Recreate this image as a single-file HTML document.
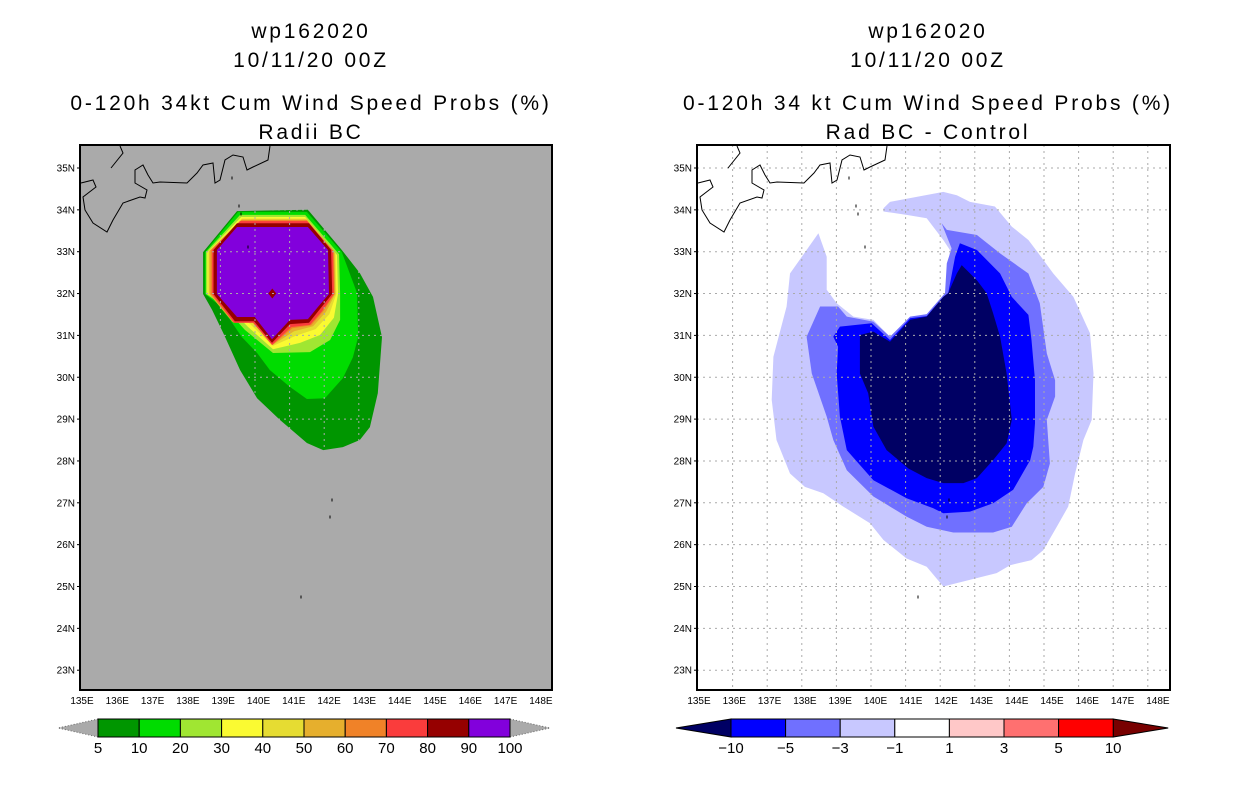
<!DOCTYPE html>
<html><head><meta charset="utf-8"><style>
body{margin:0;background:#fff;}
svg{display:block;font-family:"Liberation Sans",sans-serif;}
</style></head><body>
<svg id="fig" width="1236" height="800" viewBox="0 0 1236 800" xmlns="http://www.w3.org/2000/svg">
<defs>
<clipPath id="clipL"><rect x="80" y="145" width="472" height="545"/></clipPath>
<clipPath id="clipR"><rect x="697" y="145" width="473" height="545"/></clipPath>
</defs>
<rect width="1236" height="800" fill="#fff"/>
<g font-size="21" text-anchor="middle" fill="#000" letter-spacing="2.8">
<text x="311" y="38">wp162020</text>
<text x="311" y="67">10/11/20 00Z</text>
<text x="311" y="110">0-120h 34kt Cum Wind Speed Probs (%)</text>
<text x="311" y="139">Radii BC</text>
<text x="928" y="38">wp162020</text>
<text x="928" y="67">10/11/20 00Z</text>
<text x="928" y="110">0-120h 34 kt Cum Wind Speed Probs (%)</text>
<text x="928" y="139">Rad BC - Control</text>
</g>
<rect x="80" y="145" width="472" height="545" fill="#aaaaaa"/>
<rect x="697" y="145" width="473" height="545" fill="#ffffff"/>
<g id="leftFill" clip-path="url(#clipL)"></g>
<g id="rightFill" clip-path="url(#clipR)"></g>
<g id="grids"></g>
<g id="coasts" fill="none" stroke="#000" stroke-width="1"></g>
<rect x="80" y="145" width="472" height="545" fill="none" stroke="#000" stroke-width="2"/>
<rect x="697" y="145" width="473" height="545" fill="none" stroke="#000" stroke-width="2"/>
<g id="axes" font-size="10" fill="#000"></g>
<g id="cbars" font-size="15" fill="#000"></g>
</svg>
<script>
const NS="http://www.w3.org/2000/svg";
const latTicks=[35,34,33,32,31,30,29,28,27,26,25,24,23];
const lonTicks=[136,137,138,139,140,141,142,143,144,145,146,147,148];
const lonLabels=["135E","136E","137E","138E","139E","140E","141E","142E","143E","144E","145E","146E","147E","148E"];
// left panel contours (lon,lat)
const p5=[[139.48,33.97],[141.53,34.00],[142.51,33.04],[143.03,32.49],[143.41,31.92],[143.67,30.96],[143.55,29.62],[143.32,28.81],[143.03,28.50],[142.54,28.33],[141.97,28.26],[141.50,28.43],[140.72,28.98],[140.06,29.50],[139.57,30.17],[139.08,31.06],[138.76,31.61],[138.50,31.99],[138.50,32.99]];
const p10=[[139.51,33.95],[141.50,33.95],[142.51,32.99],[142.95,32.01],[142.98,30.96],[142.83,30.48],[142.54,29.98],[142.02,29.50],[141.50,29.48],[141.01,29.77],[140.43,30.17],[140.06,30.58],[139.62,30.96],[139.28,31.37],[138.90,31.77],[138.55,31.99],[138.55,32.99]];
const p20=[[139.57,33.88],[141.45,33.88],[142.43,32.94],[142.46,32.01],[142.46,31.37],[142.17,30.89],[141.59,30.60],[140.52,30.58],[139.71,31.13],[139.05,31.73],[138.58,31.99],[138.58,32.99]];
const p30=[[139.60,33.83],[141.45,33.83],[142.37,32.92],[142.40,31.99],[142.28,31.42],[141.88,31.01],[141.30,30.82],[140.52,30.67],[139.80,31.20],[139.13,31.77],[138.62,31.99],[138.62,32.99]];
const p40=[[139.62,33.79],[141.47,33.79],[142.33,32.95],[142.35,31.99],[142.15,31.51],[141.75,31.15],[141.18,30.99],[140.52,30.75],[139.86,31.27],[139.22,31.75],[138.65,31.99],[138.65,33.00]];
const p50=[[139.62,33.77],[141.50,33.77],[142.30,32.99],[142.32,31.99],[142.05,31.56],[141.68,31.22],[141.13,31.10],[140.51,30.77],[139.93,31.30],[139.35,31.32],[138.68,31.99],[138.68,33.02]];
const p60=[[139.60,33.75],[141.50,33.75],[142.28,33.01],[142.30,31.99],[141.98,31.58],[141.62,31.24],[141.08,31.17],[140.50,30.77],[139.95,31.30],[139.38,31.30],[138.72,31.99],[138.72,33.03]];
const p70=[[139.57,33.73],[141.50,33.73],[142.25,33.02],[142.28,31.99],[141.94,31.58],[141.59,31.25],[141.05,31.20],[140.49,30.77],[139.95,31.30],[139.40,31.30],[138.76,31.99],[138.76,33.04]];
const p80=[[139.48,33.68],[141.56,33.68],[142.20,33.04],[142.23,31.99],[141.88,31.63],[141.56,31.30],[141.01,31.27],[140.49,30.82],[139.97,31.34],[139.42,31.34],[138.80,31.99],[138.80,33.04]];
const p90=[[139.48,33.59],[141.53,33.59],[142.11,33.04],[142.14,31.99],[141.82,31.68],[141.53,31.39],[141.01,31.37],[140.49,30.91],[139.99,31.44],[139.48,31.44],[138.90,31.99],[138.90,33.04]];
// right panel difference contours
const dL1=[[140.36,34.04],[140.55,34.19],[142.09,34.43],[142.48,34.35],[142.86,34.19],[143.58,34.08],[144.07,33.60],[144.55,33.28],[144.84,32.96],[145.27,32.48],[145.85,31.92],[146.33,31.05],[146.43,30.09],[146.38,28.98],[146.14,28.50],[145.90,27.70],[145.70,26.91],[145.37,26.43],[144.98,25.87],[144.64,25.63],[144.02,25.51],[143.63,25.32],[142.09,25.00],[141.61,25.47],[141.03,25.67],[140.36,26.11],[139.97,26.51],[139.20,26.91],[138.62,27.23],[138.09,27.38],[137.66,27.70],[137.27,28.50],[137.13,29.46],[137.18,30.49],[137.56,31.69],[137.66,32.48],[138.48,33.44],[138.72,32.88],[138.72,32.09],[139.01,31.77],[139.49,31.45],[140.07,31.37],[140.55,30.97],[141.13,31.45],[141.61,31.49],[142.19,32.01],[142.28,33.04],[142.09,33.28],[141.61,33.80],[141.03,33.88],[140.36,33.96]];
const dL3=[[142.04,33.68],[142.19,33.52],[143.06,33.40],[143.73,32.96],[144.55,32.48],[144.88,31.77],[145.08,30.57],[145.32,29.93],[145.32,29.54],[145.08,28.98],[145.17,27.94],[144.98,27.38],[144.50,26.99],[144.07,26.43],[143.53,26.29],[142.38,26.29],[141.61,26.43],[141.03,26.67],[140.07,27.15],[139.30,27.78],[138.91,28.50],[138.72,29.06],[138.29,30.09],[138.14,30.97],[138.53,31.69],[139.05,31.69],[139.30,31.45],[140.07,31.33],[140.55,30.97],[141.13,31.45],[141.61,31.51],[142.14,32.01],[142.19,32.72],[142.33,33.08]];
const dL5=[[142.57,33.20],[143.06,33.04],[143.73,32.48],[144.07,31.92],[144.55,31.49],[144.64,30.89],[144.74,29.93],[144.74,28.90],[144.69,28.34],[144.60,28.02],[144.11,27.31],[143.53,26.99],[142.86,26.79],[142.09,26.75],[141.80,26.87],[141.03,27.11],[140.07,27.54],[139.30,28.26],[139.10,29.06],[139.01,30.09],[139.05,30.73],[138.91,30.97],[139.10,31.21],[140.02,31.29],[140.55,30.89],[141.13,31.41],[141.61,31.46],[142.09,31.92],[142.23,32.01],[142.43,32.88]];
const dL10=[[142.62,32.68],[143.06,32.32],[143.34,32.01],[143.53,31.53],[143.73,30.97],[143.92,30.09],[144.07,28.98],[143.92,28.42],[143.53,28.02],[143.06,27.59],[142.67,27.47],[142.09,27.47],[141.61,27.59],[141.08,27.82],[140.45,28.26],[140.07,28.82],[139.92,29.62],[139.68,30.09],[139.68,31.01],[140.07,31.09],[140.55,30.85],[141.13,31.37],[141.61,31.45],[142.09,31.92],[142.23,32.01],[142.48,32.48]];
const leftLevels=["5","10","20","30","40","50","60","70","80","90","100"];
const leftColors=["#009600","#00dc00","#a0e632","#fafa32","#e6dc32","#e6af2d","#f08228","#fa3c3c","#960000","#8200dc"];
const rightLevels=["-10","-5","-3","-1","1","3","5","10"];
const rightColors=["#000064","#0000ff","#7070ff","#c8c8ff","#ffffff","#ffc8c8","#ff7070","#ff0000","#780000"];

const xL=lon=>82+(lon-135)*34.6;
const xR=lon=>698+(lon-135)*34.6;
const yM=lat=>168+(35-lat)*41.85;

function mk(tag,attrs,parent){const e=document.createElementNS(NS,tag);for(const k in attrs)e.setAttribute(k,attrs[k]);parent.appendChild(e);return e;}
function poly(pts,fx,color,parent,name){
  const e=mk('polygon',{points:pts.map(p=>fx(p[0]).toFixed(1)+','+yM(p[1]).toFixed(1)).join(' '),fill:color},parent);
  
  
}
const lf=document.getElementById('leftFill');
[p5,p10,p20,p30,p40,p50,p60,p70,p80,p90].forEach((p,i)=>poly(p,xL,leftColors[i],lf,'prob-contour-'+leftLevels[i]));
const rf=document.getElementById('rightFill');
poly(dL1,xR,rightColors[3],rf,'diff-contour-minus1');
poly(dL3,xR,rightColors[2],rf,'diff-contour-minus3');
poly(dL5,xR,rightColors[1],rf,'diff-contour-minus5');
poly(dL10,xR,rightColors[0],rf,'diff-contour-minus10');
const sc=mk('polygon',{points:`${xL(140.5)},${yM(32)-5} ${xL(140.5)+4},${yM(32)} ${xL(140.5)},${yM(32)+5} ${xL(140.5)-4},${yM(32)}`,fill:'#960000'},lf);



const g=document.getElementById('grids');
[[xL,80,552],[xR,697,1170]].forEach(([fx,x0,x1],k)=>{
  lonTicks.forEach(lon=>{const l=mk('line',{x1:fx(lon),x2:fx(lon),y1:145,y2:690,stroke:'#aaaaaa','stroke-dasharray':'2,4'},g);
    
    });
  latTicks.forEach(lat=>{const l=mk('line',{x1:x0,x2:x1,y1:yM(lat),y2:yM(lat),stroke:'#aaaaaa','stroke-dasharray':'2,4'},g);
    
    });
});

const coast=[[81,183],[93,180],[96,187],[83,197],[85,210],[93,223],[107,232],[113,220],[123,203],[140,197],[145,198],[147,190],[135,183],[135,170],[143,165],[148,175],[153,183],[160,182],[187,183],[197,173],[203,165],[213,163],[215,183],[220,180],[225,160],[233,155],[243,157],[247,170],[253,167],[268,160],[270,146]];
const coast2=[[111,168],[123,153],[120,146]];
const cg=document.getElementById('coasts');
[0,617].forEach(off=>{
  [coast,coast2].forEach(c=>{const p=mk('polyline',{points:c.map(q=>(q[0]+off)+','+q[1]).join(' ')},cg);
    
    });
  [[232,178],[239,206],[241,214],[248,247],[332,500],[330,517],[301,597]].forEach(q=>{const c=mk('rect',{x:q[0]+off-0.5,y:q[1]-1.5,width:1,height:3,fill:'#000',stroke:'none'},cg);
    
    });
});

const ax=document.getElementById('axes');
[80,697].forEach((bx,k)=>{
  latTicks.forEach(lat=>{
    const t=mk('text',{x:bx-5,y:yM(lat)+3.5,'text-anchor':'end'},ax);t.textContent=lat+'N';
    
    
    mk('line',{x1:bx-3,x2:bx,y1:yM(lat),y2:yM(lat),stroke:'#000'},ax);
  });
  lonLabels.forEach((s,i)=>{
    const t=mk('text',{x:bx+2+35.3*i,y:704,'text-anchor':'middle'},ax);t.textContent=s;
    
    
  });
});

const cb=document.getElementById('cbars');
(function(){
  const x0=98,w=41.2,y0=719,h=18;
  const t1=mk('polygon',{points:`${x0},${y0} ${x0-40},${y0+h/2} ${x0},${y0+h}`,fill:'#aaaaaa',stroke:'#666','stroke-dasharray':'1,2'},cb);
  
  
  const t2=mk('polygon',{points:`${x0+10*w},${y0} ${x0+10*w+40},${y0+h/2} ${x0+10*w},${y0+h}`,fill:'#aaaaaa',stroke:'#666','stroke-dasharray':'1,2'},cb);
  
  
  leftColors.forEach((c,i)=>{const r=mk('rect',{x:x0+i*w,y:y0,width:w,height:h,fill:c,stroke:'#000'},cb);
    
    });
  leftLevels.forEach((s,i)=>{const t=mk('text',{x:x0+i*w,y:753,'text-anchor':'middle'},cb);t.textContent=s;
    
    });
})();
(function(){
  const x0=731,w=54.6,y0=719,h=18;
  const t1=mk('polygon',{points:`${x0},${y0} ${x0-55},${y0+h/2} ${x0},${y0+h}`,fill:rightColors[0],stroke:'#000'},cb);
  
  
  const t2=mk('polygon',{points:`${x0+7*w},${y0} ${x0+7*w+55},${y0+h/2} ${x0+7*w},${y0+h}`,fill:rightColors[8],stroke:'#000'},cb);
  
  
  rightColors.slice(1,8).forEach((c,i)=>{const r=mk('rect',{x:x0+i*w,y:y0,width:w,height:h,fill:c,stroke:'#000'},cb);
    
    });
  rightLevels.forEach((s,i)=>{const t=mk('text',{x:x0+i*w,y:753,'text-anchor':'middle'},cb);t.textContent=s.replace('-','\u2212');
    
    });
})();
</script>
</body></html>
